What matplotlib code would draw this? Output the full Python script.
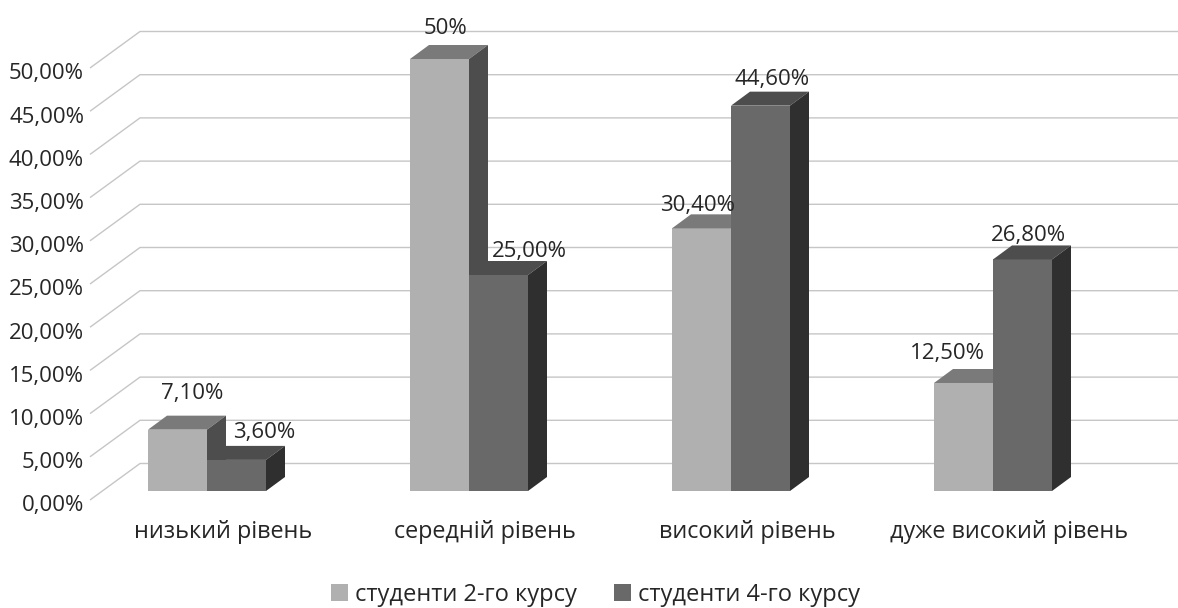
import matplotlib
matplotlib.use('Agg')
import matplotlib.pyplot as plt
from matplotlib.patches import Polygon

categories = ['низький рівень', 'середній рівень', 'високий рівень', 'дуже високий рівень']
series_names = ['студенти 2-го курсу', 'студенти 4-го курсу']
course2 = [7.1, 50.0, 30.4, 12.5]
course4 = [3.6, 25.0, 44.6, 26.8]
labels2 = ['7,10%', '50%', '30,40%', '12,50%']
labels4 = ['3,60%', '25,00%', '44,60%', '26,80%']
y_ticks = [0, 5, 10, 15, 20, 25, 30, 35, 40, 45, 50]
y_tick_labels = ['0,00%', '5,00%', '10,00%', '15,00%', '20,00%', '25,00%',
                 '30,00%', '35,00%', '40,00%', '45,00%', '50,00%']

# label offsets from the front top centre of each bar, in pixels
offsets2 = [(15, -36), (6, -31), (-4, -23), (-16, -29)]
offsets4 = [(28, -27), (31, -23), (12, -26), (6, -24)]

W, H = 1178, 608
PX_X = 262.0     # pixels per category
PX_Y = 8.64      # pixels per percent
X0 = 207.0       # pixel of category 0
Y0 = 491.0       # pixel of 0%
BAR_W = 59 / PX_X
DEPTH_X = 19 / PX_X
DEPTH_Y = 14 / PX_Y

plt.rcParams['font.family'] = ['Open Sans', 'DejaVu Sans']
fig = plt.figure(figsize=(W / 100, H / 100), dpi=100)
ax = fig.add_axes([0, 0, 1, 1])
ax.set_xlim(-X0 / PX_X, (W - X0) / PX_X)
ax.set_ylim(-(H - Y0) / PX_Y, Y0 / PX_Y)
ax.axis('off')

TEXT = '#262626'
GRID = '#c6c6c6'
FONT = 16


def dx(px):
    return px / PX_X


def dy(px):
    return px / PX_Y


# back wall gridlines and the diagonal floor/side lines
wall_x = dx(140 - X0)
front_x = dx(90 - X0)
wall_up = dy(27.5)
front_down = dy(9)
for v, lab in zip(y_ticks, y_tick_labels):
    ax.plot([front_x, wall_x, (W - X0) / PX_X], [v - front_down, v + wall_up, v + wall_up],
            color=GRID, lw=1.0, zorder=1, solid_capstyle='butt')
    ax.text(dx(84 - X0), v - dy(15), lab, ha='right', va='center', fontsize=FONT, color=TEXT)


def draw_bars(xs, values, front, top, side, name, z):
    bars = ax.bar(xs, values, width=BAR_W, color=front, align='center', zorder=z, label=name)
    for x, v in zip(xs, values):
        l, r = x - BAR_W / 2, x + BAR_W / 2
        ax.add_patch(Polygon([(l, v), (r, v), (r + DEPTH_X, v + DEPTH_Y), (l + DEPTH_X, v + DEPTH_Y)],
                             facecolor=top, edgecolor='none', zorder=z))
        ax.add_patch(Polygon([(r, 0), (r + DEPTH_X, DEPTH_Y), (r + DEPTH_X, v + DEPTH_Y), (r, v)],
                             facecolor=side, edgecolor='none', zorder=z))
    return bars


pos = list(range(len(categories)))
xs2 = [p - BAR_W / 2 for p in pos]
xs4 = [p + BAR_W / 2 for p in pos]
b2 = draw_bars(xs2, course2, '#b0b0b0', '#7a7a7a', '#4d4d4d', series_names[0], 3)
b4 = draw_bars(xs4, course4, '#696969', '#4d4d4d', '#2f2f2f', series_names[1], 4)

for xs, values, labs, offs in [(xs2, course2, labels2, offsets2), (xs4, course4, labels4, offsets4)]:
    for x, v, lab, (ox, oy) in zip(xs, values, labs, offs):
        ax.text(x + dx(ox), v - dy(oy), lab, ha='center', va='center', fontsize=FONT,
                color=TEXT, zorder=6)

for p, cat in zip(pos, categories):
    ax.text(p + dx(16), dy(-41), cat, ha='center', va='center', fontsize=16.8, color=TEXT)

ax.legend(handles=[b2, b4], loc='center', bbox_to_anchor=(595.5 / W, 1 - 595 / H), ncol=2,
          frameon=False, fontsize=17, labelcolor=TEXT, handlelength=0.72, handleheight=0.72,
          handletextpad=0.3, columnspacing=1.6, borderpad=0)

fig.savefig('out.png', dpi=100)
